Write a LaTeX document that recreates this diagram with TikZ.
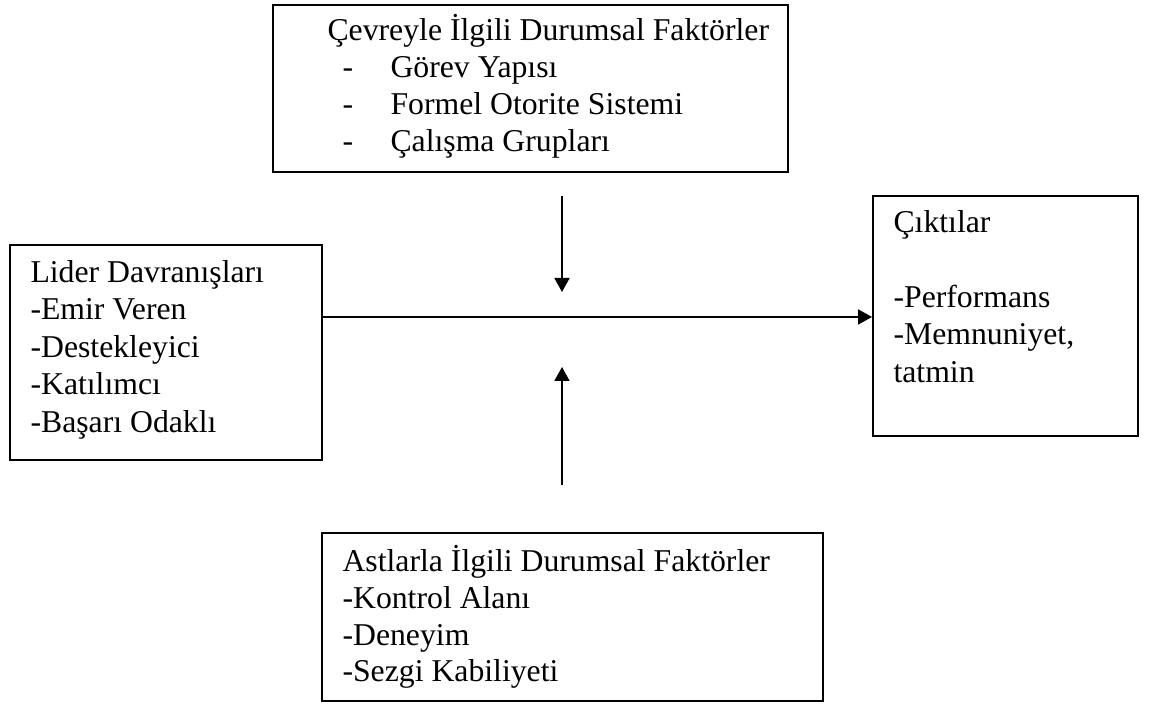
\documentclass[tikz,border=0pt]{standalone}
\usepackage{fontspec}
\setmainfont{Liberation Serif}
\usetikzlibrary{arrows.meta,fit}
\begin{document}
\begin{tikzpicture}[x=0.375pt,y=-0.375pt,
  box/.style={draw, line width=0.75pt, inner sep=0pt},
  txt/.style={anchor=base west, inner sep=0pt, font=\fontsize{11.9}{13.8}\selectfont},
  arr/.style={line width=0.75pt, -{Triangle[length=5.25pt,width=5.6pt]}}]
\useasboundingbox (0,0) rectangle (1153,704);
% boxes
\node[box, fit={(273,5) (788,172)}] (cevre) {};
\node[box, fit={(10,245) (322,460)}] (lider) {};
\node[box, fit={(873,196) (1138,436)}] (cikti) {};
\node[box, fit={(322,533) (823,701)}] (ast) {};
% top box text
\node[txt] (c1) at (327,41) {Çevreyle İlgili Durumsal Faktörler};
\node[txt] (c2d) at (342,78) {-};
\node[txt] (c2) at (390,78) {Görev Yapısı};
\node[txt] (c3d) at (342,115) {-};
\node[txt] (c3) at (390,115) {Formel Otorite Sistemi};
\node[txt] (c4d) at (342,152) {-};
\node[txt] (c4) at (390,152) {Çalışma Grupları};
% left box text
\node[txt] (l1) at (30,283) {Lider Davranışları};
\node[txt] (l2) at (30,320) {-Emir Veren};
\node[txt] (l3) at (30,358) {-Destekleyici};
\node[txt] (l4) at (30,395) {-Katılımcı};
\node[txt] (l5) at (30,433) {-Başarı Odaklı};
% right box text
\node[txt] (r1) at (893,233) {Çıktılar};
\node[txt] (r2) at (893,308) {-Performans};
\node[txt] (r3) at (893,345) {-Memnuniyet,};
\node[txt] (r4) at (893,383) {tatmin};
% bottom box text
\node[txt] (a1) at (342,572) {Astlarla İlgili Durumsal Faktörler};
\node[txt] (a2) at (342,609) {-Kontrol Alanı};
\node[txt] (a3) at (342,646) {-Deneyim};
\node[txt] (a4) at (342,682) {-Sezgi Kabiliyeti};
% connectors
\coordinate (hm) at (562,317);
\draw[arr] (lider.east |- hm) -- (cikti.west |- hm);
\coordinate (d1) at (562,196);
\coordinate (d2) at (562,292);
\draw[arr] (d1) -- (d2);
\coordinate (u1) at (562,485);
\coordinate (u2) at (562,367);
\draw[arr] (u1) -- (u2);
\end{tikzpicture}
\end{document}
